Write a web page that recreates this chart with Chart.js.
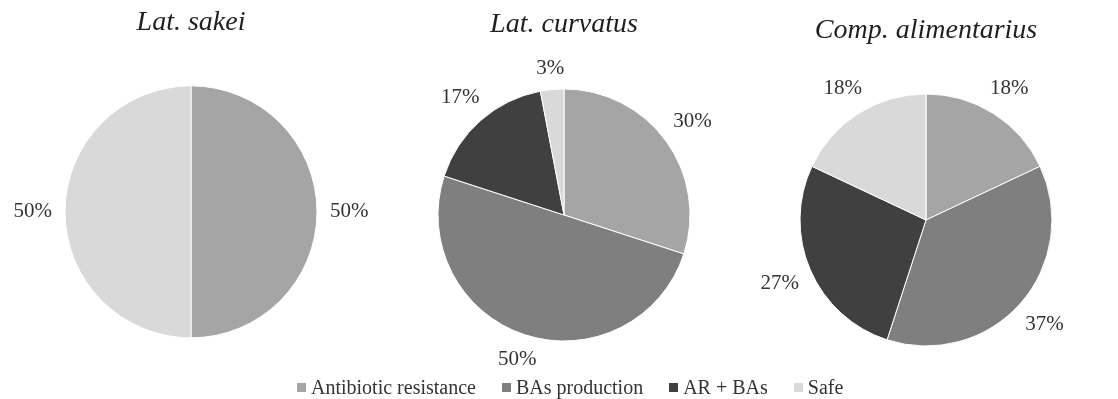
<!DOCTYPE html>
<html>
<head>
<meta charset="utf-8">
<script src="https://cdn.jsdelivr.net/npm/chart.js@4"></script>
<style>
    html, body { margin: 0; padding: 0; background: #fff; }
    #wrap { position: relative; width: 1118px; height: 399px; overflow: hidden; }
    #wrap canvas { position: absolute; top: 0; }
    #leyenda {
        position: absolute; left: 297px; top: 376px; height: 22px;
        display: flex; align-items: center; gap: 26px;
        font: 20px "Liberation Serif", "Times New Roman", serif;
        line-height: 22px; color: #333; white-space: nowrap;
    }
    #leyenda .item { display: flex; align-items: center; }
    #leyenda .box { width: 9px; height: 9px; margin-right: 5px; }
</style>
</head>
<body>
<div id="wrap">
    <canvas id="chartSakei" width="382" height="399" style="left:0px"></canvas>
    <canvas id="chartCurvatus" width="364" height="399" style="left:382px"></canvas>
    <canvas id="chartAlimentarius" width="360" height="399" style="left:746px"></canvas>
    <div id="leyenda"></div>
</div>
<script>
// ============================================
// Distribución de riesgos por especie
// ============================================

const categorias = ['Antibiotic resistance', 'BAs production', 'AR + BAs', 'Safe'];
const colores = ['#a5a5a5', '#7f7f7f', '#404040', '#d9d9d9'];

const especies = ['Lat. sakei', 'Lat. curvatus', 'Comp. alimentarius'];

// porcentajes en el orden de las categorías
const sakei = [50, 0, 0, 50];
const curvatus = [30, 50, 17, 3];
const alimentarius = [18, 37, 27, 18];

const SERIF = '"Liberation Serif", "Times New Roman", serif';

// Etiquetas de porcentaje por fuera de cada porción
const etiquetasExternas = {
    id: 'etiquetasExternas',
    afterDatasetsDraw(chart) {
        const ctx = chart.ctx;
        const meta = chart.getDatasetMeta(0);
        const valores = chart.data.datasets[0].data;
        ctx.save();
        ctx.font = '21px ' + SERIF;
        ctx.fillStyle = '#333';
        ctx.textAlign = 'center';
        ctx.textBaseline = 'middle';
        meta.data.forEach((arc, i) => {
            if (!valores[i]) return;
            const p = arc.getProps(['x', 'y', 'startAngle', 'endAngle', 'outerRadius'], true);
            const medio = (p.startAngle + p.endAngle) / 2;
            const texto = valores[i] + '%';
            const hw = ctx.measureText(texto).width / 2;
            const cos = Math.cos(medio);
            const sin = Math.sin(medio);
            const d = p.outerRadius + 13 + Math.abs(cos) * hw + Math.abs(sin) * 7;
            ctx.fillText(texto, p.x + cos * d, p.y + sin * d);
        });
        ctx.restore();
    }
};

function crearPie(id, titulo, datos, padTitulo, padAbajo) {
    return new Chart(document.getElementById(id), {
        type: 'pie',
        data: {
            labels: categorias,
            datasets: [{
                data: datos,
                backgroundColor: colores,
                borderColor: '#ffffff',
                borderWidth: 1,
                radius: 126
            }]
        },
        options: {
            responsive: false,
            animation: false,
            layout: { padding: { top: 0, bottom: padAbajo, left: 0, right: 0 } },
            plugins: {
                legend: { display: false },
                tooltip: { enabled: false },
                title: {
                    display: true,
                    text: titulo,
                    color: '#1f1f1f',
                    font: { family: SERIF, size: 28, style: 'italic', weight: 'normal' },
                    padding: { top: padTitulo, bottom: 10 }
                }
            }
        },
        plugins: [etiquetasExternas]
    });
}

crearPie('chartSakei', especies[0], sakei, 5.7, 24.6);
crearPie('chartCurvatus', especies[1], curvatus, 7.7, 20.3);
crearPie('chartAlimentarius', especies[2], alimentarius, 13.7, 16.3);

// Leyenda común a los tres gráficos
const leyenda = document.getElementById('leyenda');
categorias.forEach((cat, i) => {
    const item = document.createElement('span');
    item.className = 'item';
    item.innerHTML = `<span class="box" style="background:${colores[i]}"></span><span>${cat}</span>`;
    leyenda.appendChild(item);
});
</script>
</body>
</html>
